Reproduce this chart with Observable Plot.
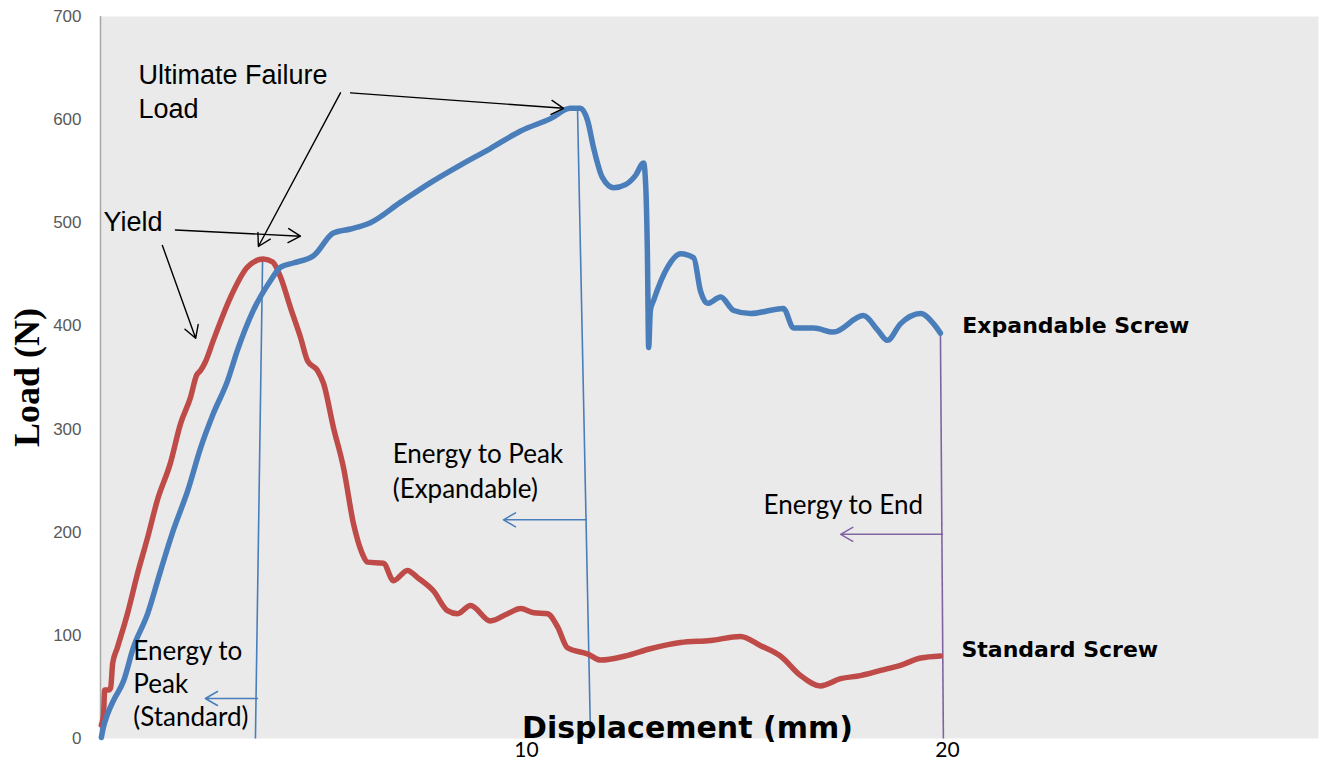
<!DOCTYPE html>
<html><head><meta charset="utf-8">
<script src="https://cdn.jsdelivr.net/npm/d3@7"></script>
<script src="https://cdn.jsdelivr.net/npm/@observablehq/plot@0.6"></script>
<style>body{margin:0;background:#fff}</style>
</head><body><div id="chart"></div>
<script>
// ---- Data ----
const stdDisp = [0.02,0.07,0.10,0.19,0.24,0.29,0.40,0.64,0.88,1.12,1.35,1.66,1.90,2.14,2.28,2.38,2.49,2.68,3.09,3.49,3.87,4.09,4.28,4.51,4.75,4.92,5.15,5.30,5.53,5.77,6.01,6.22,6.34,6.72,6.96,7.29,7.53,7.91,8.24,8.48,8.79,9.26,9.67,9.98,10.29,10.62,10.86,11.09,11.57,11.88,12.47,13.06,13.78,14.49,15.20,15.68,16.15,16.63,17.10,17.58,18.05,18.53,19.00,19.48,19.95];
const stdLoad = [13,22,47,47,49,73,88,121,160,195,231,267,305,331,352,357,365,386,428,457,465,462,447,418,389,366,357,344,302,263,208,179,171,170,153,163,156,143,124,121,129,114,121,126,122,121,108,88,82,76,80,87,93,95,99,90,80,61,51,58,61,66,71,78,80];

const expDisp = [0.02,0.07,0.17,0.31,0.55,0.78,1.12,1.43,1.73,2.07,2.38,2.68,3.02,3.25,3.63,4.04,4.28,4.58,5.06,5.53,5.94,6.41,7.13,7.84,8.55,9.26,9.98,10.69,11.16,11.40,11.57,11.71,11.92,12.19,12.47,12.71,12.90,12.95,12.99,13.02,13.06,13.14,13.47,13.78,14.09,14.25,14.42,14.73,15.04,15.44,16.22,16.46,16.94,17.41,18.12,18.46,18.69,19.00,19.48,19.79,19.95];
const expLoad = [1,11,24,37,56,88,121,163,202,240,282,315,347,376,415,444,457,461,468,490,494,500,520,539,556,572,589,601,611,611,599,573,544,534,537,546,558,536,470,379,415,425,457,470,466,434,422,428,415,412,417,398,398,394,410,396,386,402,412,402,393];

const yTicks = [0,100,200,300,400,500,600,700];
const xTicks = [10,20];

// Marker lines (displacement, load)
const dropLines = [
  {x1:3.85, y1:465, x2:3.68, y2:0, c:"#4a7ebb"},
  {x1:11.33, y1:611, x2:11.64, y2:0, c:"#4a7ebb"},
  {x1:19.95, y1:393, x2:20.02, y2:0, c:"#8064a2"}
];
const energyArrows = [
  {x1:3.73, y1:38.8, x2:2.49, y2:38.8, c:"#4a7ebb"},
  {x1:11.54, y1:212, x2:9.57, y2:212, c:"#4a7ebb"},
  {x1:20.0, y1:198, x2:17.58, y2:198, c:"#8064a2"}
];
const pointerArrows = [
  {x1:1.78, y1:493, x2:4.75, y2:487},
  {x1:1.47, y1:478, x2:2.26, y2:388},
  {x1:5.70, y1:626, x2:3.75, y2:477},
  {x1:5.94, y1:626, x2:11.0, y2:611}
];
const bigNotes = [
  {x:0.90, y:658, t:"Ultimate Failure\nLoad"},
  {x:0.07, y:515.5, t:"Yield"}
];
const expNote = [{x:6.94, y:291, t:"Energy to Peak\n(Expandable)"}];
const endNote = [{x:15.75, y:235.5, t:"Energy to End"}];
const stdNote = [{x:0.78, y:99, t:"Energy to\nPeak\n(Standard)"}];
const seriesNotes = [
  {x:20.47, y:408, t:"Expandable Screw"},
  {x:20.45, y:94, t:"Standard Screw"}
];

const standard = stdDisp.map((d,i)=>({d, l:stdLoad[i]}));
const expandable = expDisp.map((d,i)=>({d, l:expLoad[i]}));

const calibriLike = {textAnchor:"start", lineAnchor:"top", fontSize:26, fontFamily:"Lato", fill:"#000"};

const chart = Plot.plot({
  width:1320, height:763,
  marginLeft:100, marginRight:2, marginTop:16, marginBottom:25,
  x:{domain:[0,28.93]},
  y:{domain:[0,700]},
  style:{background:"#fff", overflow:"visible"},
  marks:[
    Plot.frame({fill:"#eaeaea", stroke:"none"}),
    Plot.axisY({ticks:yTicks, tickSize:0, tickPadding:19, fontSize:17, color:"#595959", fontFamily:"Liberation Sans", label:null}),
    Plot.axisX({ticks:xTicks, tickSize:0, tickPadding:4, fontSize:21, color:"#000", fontFamily:"Lato", label:null, dx:5}),
    Plot.ruleX([0], {y1:0, y2:700, stroke:"#a6a6a6", strokeWidth:1.5}),
    Plot.link(dropLines, {x1:"x1", y1:"y1", x2:"x2", y2:"y2", stroke:"c", strokeWidth:1.6}),
    Plot.arrow(energyArrows, {x1:"x1", y1:"y1", x2:"x2", y2:"y2", stroke:"c", strokeWidth:1.5, headLength:14, bend:0}),
    Plot.line(standard, {x:"d", y:"l", stroke:"#be4b48", strokeWidth:5.5, curve:"monotone-x"}),
    Plot.line(expandable, {x:"d", y:"l", stroke:"#4a7ebb", strokeWidth:5.5, curve:"monotone-x"}),
    Plot.arrow(pointerArrows, {x1:"x1", y1:"y1", x2:"x2", y2:"y2", stroke:"#000", strokeWidth:1.4, headLength:15, bend:0}),
    Plot.text(bigNotes, {x:"x", y:"y", text:"t", textAnchor:"start", lineAnchor:"top", fontSize:27, lineHeight:1.26, fontFamily:"Liberation Sans", fill:"#000"}),
    Plot.text(expNote, {x:"x", y:"y", text:"t", ...calibriLike, lineHeight:1.35}),
    Plot.text(endNote, {x:"x", y:"y", text:"t", ...calibriLike}),
    Plot.text(stdNote, {x:"x", y:"y", text:"t", ...calibriLike, lineHeight:1.27}),
    Plot.text(seriesNotes, {x:"x", y:"y", text:"t", textAnchor:"start", lineAnchor:"top", fontSize:22, fontWeight:"bold", fontFamily:"DejaVu Sans", fill:"#000"}),
    Plot.text(["Load (N)"], {frameAnchor:"left", textAnchor:"middle", dx:-73, rotate:-90, fontSize:36, fontWeight:"bold", fontFamily:"Liberation Serif", fill:"#000"}),
    Plot.text(["Displacement (mm)"], {frameAnchor:"bottom", textAnchor:"middle", dx:-22, dy:-10.5, lineAnchor:"middle", fontSize:30, fontWeight:"bold", fontFamily:"DejaVu Sans", fill:"#000"})
  ]
});
document.getElementById("chart").appendChild(chart);
</script>
</body></html>
